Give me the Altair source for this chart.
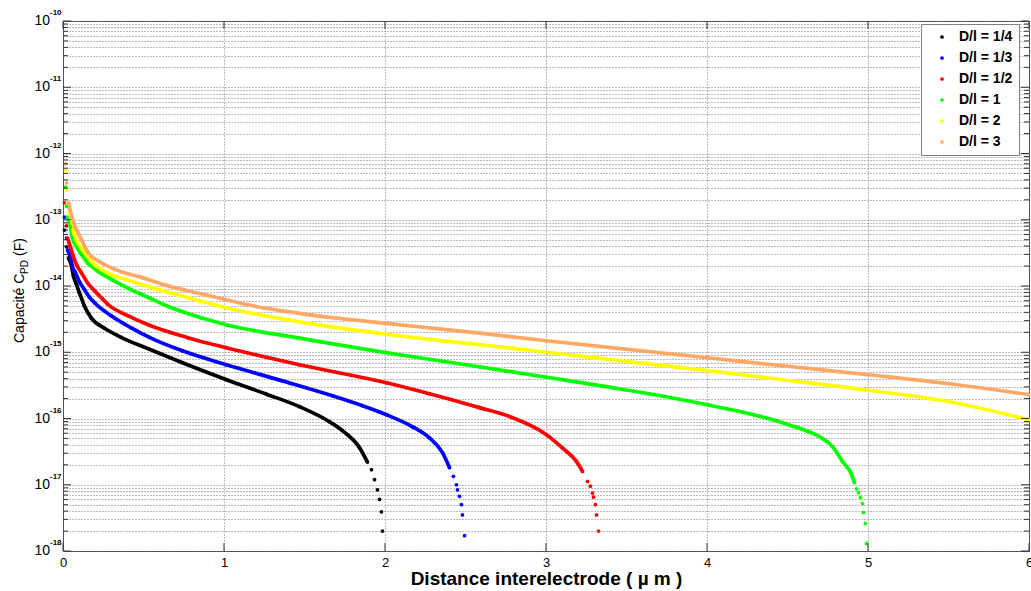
import altair as alt
import pandas as pd

# ---------------------------------------------------------------- data
series_names = ["D/l = 1/4", "D/l = 1/3", "D/l = 1/2", "D/l = 1", "D/l = 2", "D/l = 3"]
series_colors = ["#000000", "#0000ff", "#ff0000", "#00ff00", "#ffff00", "#ffa866"]

# inter-electrode distance (µm) and capacitance C_PD (F) along each curve
d_q4 = [0.009, 0.022, 0.034, 0.053, 0.065, 0.084, 0.102, 0.133, 0.175, 0.258, 0.361,
        0.537, 0.742, 1.016, 1.264, 1.469, 1.655, 1.736, 1.842, 1.891, 1.916, 1.935,
        1.953, 1.966, 1.978, 1.984]
c_q4 = [7.0e-14, 3.9e-14, 2.66e-14, 2.0e-14, 1.41e-14, 1.05e-14, 7.9e-15, 5.0e-15,
        3.3e-15, 2.3e-15, 1.68e-15, 1.11e-15, 6.95e-16, 3.85e-16, 2.33e-16, 1.51e-16,
        8.95e-17, 6.55e-17, 3.63e-17, 2.2e-17, 1.69e-17, 1.19e-17, 8.4e-18, 6.0e-18,
        3.9e-18, 2.0e-18]

d_q3 = [0.009, 0.022, 0.028, 0.047, 0.059, 0.078, 0.102, 0.134, 0.165, 0.196, 0.299,
        0.424, 0.537, 0.742, 1.016, 1.363, 1.674, 1.860, 2.009, 2.171, 2.276, 2.357,
        2.401, 2.425, 2.444, 2.450, 2.463, 2.475, 2.481, 2.494]
c_q3 = [1.1e-13, 5.3e-14, 3.5e-14, 2.66e-14, 1.95e-14, 1.58e-14, 1.16e-14, 8.8e-15,
        6.76e-15, 5.58e-15, 3.56e-15, 2.34e-15, 1.68e-15, 1.05e-15, 6.47e-16, 3.7e-16,
        2.2e-16, 1.56e-16, 1.14e-16, 7.5e-17, 5.1e-17, 3.05e-17, 1.81e-17, 1.34e-17,
        1.0e-17, 8.4e-18, 6.7e-18, 5.0e-18, 3.5e-18, 1.7e-18]

d_q2 = [0.009, 0.022, 0.028, 0.047, 0.065, 0.084, 0.115, 0.152, 0.196, 0.245, 0.278,
        0.403, 0.537, 0.775, 1.014, 1.469, 2.009, 2.276, 2.587, 2.792, 3.003, 3.102,
        3.189, 3.227, 3.258, 3.276, 3.289, 3.295, 3.307, 3.314, 3.326]
c_q2 = [1.8e-13, 8.1e-14, 5.3e-14, 3.8e-14, 2.75e-14, 2.1e-14, 1.58e-14, 1.12e-14,
        8.5e-15, 6.4e-15, 5.3e-15, 3.56e-15, 2.55e-15, 1.66e-15, 1.17e-15, 6.47e-16,
        3.47e-16, 2.37e-16, 1.46e-16, 1.03e-16, 5.7e-17, 3.6e-17, 2.25e-17, 1.59e-17,
        1.12e-17, 9.5e-18, 7.5e-18, 6.5e-18, 5.0e-18, 3.5e-18, 2.0e-18]

d_1 = [0.016, 0.022, 0.028, 0.047, 0.059, 0.084, 0.115, 0.152, 0.214, 0.301, 0.382,
       0.486, 0.537, 0.651, 0.858, 1.014, 1.469, 2.09, 2.587, 3.003, 3.413, 3.829,
       4.003, 4.264, 4.469, 4.575, 4.699, 4.780, 4.841, 4.897, 4.916, 4.929, 4.941,
       4.953, 4.966, 4.972, 4.984, 4.991]
c_1 = [3.1e-13, 1.6e-13, 1.1e-13, 7.8e-14, 5.3e-14, 3.9e-14, 3.0e-14, 2.24e-14,
       1.69e-14, 1.26e-14, 9.9e-15, 7.5e-15, 6.6e-15, 4.94e-15, 3.31e-15, 2.6e-15,
       1.63e-15, 9.16e-16, 6.04e-16, 4.2e-16, 2.92e-16, 1.95e-16, 1.61e-16, 1.18e-16,
       8.65e-17, 7.1e-17, 5.3e-17, 3.76e-17, 2.25e-17, 1.45e-17, 1.08e-17, 8.7e-18,
       7.6e-18, 6.4e-18, 5.2e-18, 3.8e-18, 2.6e-18, 1.3e-18]

d_2 = [0.016, 0.022, 0.028, 0.053, 0.065, 0.090, 0.134, 0.196, 0.276, 0.425, 0.568,
       0.674, 0.858, 1.014, 1.469, 2.09, 2.587, 3.003, 3.413, 3.829, 4.003, 4.469,
       5.003, 5.506, 5.997]
c_2 = [5.5e-13, 2.8e-13, 1.8e-13, 1.0e-13, 6.6e-14, 4.6e-14, 3.2e-14, 2.1e-14,
       1.58e-14, 1.18e-14, 9.2e-15, 7.8e-15, 5.9e-15, 4.7e-15, 2.88e-15, 1.77e-15,
       1.3e-15, 1.0e-15, 7.7e-16, 5.9e-16, 5.3e-16, 3.85e-16, 2.67e-16, 1.79e-16, 9.6e-17]

d_3 = [0.016, 0.022, 0.034, 0.059, 0.084, 0.115, 0.152, 0.239, 0.363, 0.488, 0.630,
       0.879, 1.014, 1.148, 1.469, 2.09, 2.587, 3.003, 3.413, 3.829, 4.003, 4.469,
       5.003, 5.506, 5.997]
c_3 = [7.0e-13, 3.6e-13, 1.8e-13, 1.03e-13, 7.0e-14, 5.0e-14, 3.3e-14, 2.24e-14,
       1.64e-14, 1.35e-14, 1.04e-14, 7.4e-15, 6.2e-15, 5.2e-15, 3.87e-15, 2.6e-15,
       1.94e-15, 1.49e-15, 1.17e-15, 9.16e-16, 8.26e-16, 6.25e-16, 4.58e-16, 3.35e-16,
       2.3e-16]

# isolated samples at the start and at the cut-off end of each curve
head_points = [3, 3, 3, 3, 3, 3]
tail_points = [7, 8, 8, 8, 0, 0]

x_ticks = [0, 1, 2, 3, 4, 5, 6]
decade_exps = [-18, -17, -16, -15, -14, -13, -12, -11, -10]

# ---------------------------------------------------------------- tables
all_d = [d_q4, d_q3, d_q2, d_1, d_2, d_3]
all_c = [c_q4, c_q3, c_q2, c_1, c_2, c_3]

rows = []
for name, col, ds, cs, nh, nt in zip(series_names, series_colors, all_d, all_c,
                                     head_points, tail_points):
    n = len(ds)
    last = n - nt if nt else n
    for i, (d, c) in enumerate(zip(ds, cs)):
        rows.append({"serie": name, "col": col, "d": d, "c": c, "order": i,
                     "on_line": (nh - 1) <= i <= last})
curves = pd.DataFrame(rows)

grid_vals = [m * 10.0 ** e for e in decade_exps[:-1] for m in range(1, 10)] + [1e-10]
major = pd.DataFrame({"c": [10.0 ** e for e in decade_exps]})
minor = pd.DataFrame({"c": [m * 10.0 ** e for e in decade_exps[:-1] for m in range(2, 10)]})
ylabels = pd.DataFrame({"c": [10.0 ** e for e in decade_exps],
                        "base": ["10"] * len(decade_exps),
                        "exp": [str(e) for e in decade_exps]})
xtick_df = pd.DataFrame({"d": x_ticks})

W, H = 966, 530
FONT = "Liberation Sans"

x_scale = alt.Scale(domain=[0, 6], nice=False, zero=False)
y_scale = alt.Scale(type="log", domain=[1e-18, 1e-10], nice=False)

x_axis = alt.Axis(values=x_ticks, grid=True, gridDash=[1, 2], gridColor="#7a7a7a",
                  ticks=False, domain=False, labelFont=FONT, labelFontSize=13,
                  labelColor="black", labelPadding=5, labelFlush=False, format="d",
                  title="Distance interelectrode  ( µ m )", titleFont=FONT,
                  titleFontSize=19, titleFontWeight="bold", titleColor="black",
                  titlePadding=0)
y_axis = alt.Axis(values=grid_vals, grid=True, gridDash=[1, 2], gridColor="#7a7a7a",
                  labels=False, ticks=False, domain=False, title=None)

X = alt.X("d:Q", scale=x_scale, axis=x_axis)
Y = alt.Y("c:Q", scale=y_scale, axis=y_axis)

# ---------------------------------------------------------------- curves
lines = alt.Chart(curves).transform_filter("datum.on_line").mark_line(
    strokeWidth=3.7, interpolate="monotone"
).encode(
    x=X, y=Y,
    stroke=alt.Stroke("col:N", scale=None),
    detail="serie:N",
    order=alt.Order("order:Q"),
)

dots = alt.Chart(curves).mark_circle(size=14, opacity=1).encode(
    x=X, y=Y,
    color=alt.Color("serie:N", scale=alt.Scale(domain=series_names, range=series_colors),
                    sort=series_names,
                    legend=alt.Legend(title=None, orient="none", legendX=858, legendY=3,
                                      symbolType="circle", symbolSize=14,
                                      symbolStrokeWidth=0, labelFont=FONT,
                                      labelFontSize=14, labelFontWeight="bold",
                                      labelColor="black", strokeColor="#7f7f7f",
                                      fillColor="white", padding=6, rowPadding=7,
                                      symbolOffset=8, labelOffset=10, cornerRadius=0)),
)

# ---------------------------------------------------------------- inward ticks
tick_col = "#333333"
left_major = alt.Chart(major).mark_rule(color=tick_col).encode(y=Y, x=alt.value(0), x2=alt.value(8))
left_minor = alt.Chart(minor).mark_rule(color=tick_col).encode(y=Y, x=alt.value(0), x2=alt.value(5))
right_major = alt.Chart(major).mark_rule(color=tick_col).encode(y=Y, x=alt.value(W - 8), x2=alt.value(W))
right_minor = alt.Chart(minor).mark_rule(color=tick_col).encode(y=Y, x=alt.value(W - 5), x2=alt.value(W))
bottom_ticks = alt.Chart(xtick_df).mark_rule(color=tick_col).encode(x=X, y=alt.value(H - 8), y2=alt.value(H))
top_ticks = alt.Chart(xtick_df).mark_rule(color=tick_col).encode(x=X, y=alt.value(0), y2=alt.value(8))

# ---------------------------------------------------------------- y labels 10^n
ten = alt.Chart(ylabels).mark_text(align="right", baseline="middle", font=FONT,
                                   fontSize=14, color="black").encode(
    y=Y, x=alt.value(-13), text="base:N")
expo = alt.Chart(ylabels).mark_text(align="left", baseline="alphabetic", dy=-6,
                                    font=FONT, fontSize=8, fontWeight="bold",
                                    color="black").encode(
    y=Y, x=alt.value(-13), text="exp:N")

# ---------------------------------------------------------------- y title with subscript
t_main = alt.Chart(pd.DataFrame({"t": ["Capacité C"]})).mark_text(
    angle=270, align="left", baseline="middle", font=FONT, fontSize=14, color="black"
).encode(x=alt.value(-43), y=alt.value(322), text="t:N")
t_sub = alt.Chart(pd.DataFrame({"t": ["PD"]})).mark_text(
    angle=270, align="left", baseline="middle", font=FONT, fontSize=10, color="black"
).encode(x=alt.value(-38), y=alt.value(253), text="t:N")
t_unit = alt.Chart(pd.DataFrame({"t": ["(F)"]})).mark_text(
    angle=270, align="left", baseline="middle", font=FONT, fontSize=14, color="black"
).encode(x=alt.value(-43), y=alt.value(235), text="t:N")

chart = alt.layer(
    lines, dots,
    left_major, left_minor, right_major, right_minor, bottom_ticks, top_ticks,
    ten, expo, t_main, t_sub, t_unit,
).properties(
    width=W, height=H,
    padding={"left": 63, "top": 21, "right": 2, "bottom": 40},
    autosize=alt.AutoSizeParams(type="none"),
    background="white",
).configure_view(stroke="#404040", strokeWidth=1)

chart.save("out.html", embed_options={"renderer": "svg", "actions": False})
